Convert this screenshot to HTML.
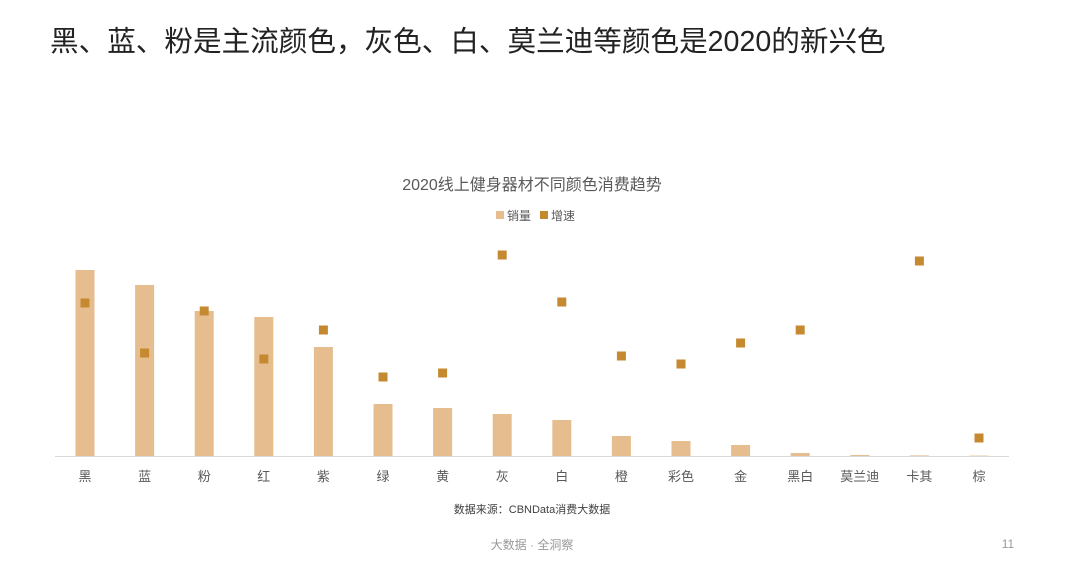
<!DOCTYPE html>
<html><head><meta charset="utf-8"><style>
body{margin:0;width:1080px;height:565px;background:#fff;font-family:"Liberation Sans","Noto Sans CJK SC",sans-serif;overflow:hidden;position:relative}
.t{position:absolute}
</style></head><body>
<div class="t" style="left:50px;top:19px;font-size:28.6px;color:#222">黑、蓝、粉是主流颜色，灰色、白、莫兰迪等颜色是2020的新兴色</div>
<svg width="1080" height="565" style="position:absolute;left:0;top:0" id="chart">
<text x="532" y="190" text-anchor="middle" font-size="16" fill="#595959">2020线上健身器材不同颜色消费趋势</text>
<g>
<rect x="496" y="211" width="8" height="8" fill="#e6bd8f"/>
<text x="507" y="220" font-size="12" fill="#595959">销量</text>
<rect x="540" y="211" width="8" height="8" fill="#c58a30"/>
<text x="551" y="220" font-size="12" fill="#595959">增速</text>
</g>
<line x1="55" y1="456.5" x2="1009" y2="456.5" stroke="#d9d9d9"/>
<g id="marks"></g>
<text x="532" y="513" text-anchor="middle" font-size="11" fill="#404040">数据来源：CBNData消费大数据</text>
<text x="532" y="549" text-anchor="middle" font-size="12" fill="#999">大数据 · 全洞察</text>
<text x="1008" y="548" text-anchor="middle" font-size="12" fill="#999">11</text>
</svg>
<script>
const categories=["黑","蓝","粉","红","紫","绿","黄","灰","白","橙","彩色","金","黑白","莫兰迪","卡其","棕"];
const sales=[186,171,145,139,109,52,48,42,36,20,15,11,3,1,0.6,0.4];
const growth=[153,103,145,97,126,79,83,201,154,100,92,113,126,null,195,18];
const x0=85,step=59.6,base=456,bw=19;
const xs=i=>x0+i*step;
const ys=v=>base-v;
const yg=v=>base-v;
const g=document.getElementById('marks');
const NS="http://www.w3.org/2000/svg";
categories.forEach((c,i)=>{
 const r=document.createElementNS(NS,'rect');
 
 
 r.setAttribute('x',xs(i)-bw/2);r.setAttribute('y',ys(sales[i]));
 r.setAttribute('width',bw);r.setAttribute('height',base-ys(sales[i]));
 r.setAttribute('fill','#e6bd8f');g.appendChild(r);
 if(growth[i]!==null){
  const p=document.createElementNS(NS,'rect');
  
  
  p.setAttribute('x',xs(i)-4.5);p.setAttribute('y',yg(growth[i])-4.5);
  p.setAttribute('width',9);p.setAttribute('height',9);
  p.setAttribute('fill','#c58a30');g.appendChild(p);
 }
 const t=document.createElementNS(NS,'text');
 
 
 t.setAttribute('x',xs(i));t.setAttribute('y',481);
 t.setAttribute('text-anchor','middle');t.setAttribute('font-size','13');t.setAttribute('fill','#595959');
 t.textContent=c;g.appendChild(t);
});
</script>
</body></html>
